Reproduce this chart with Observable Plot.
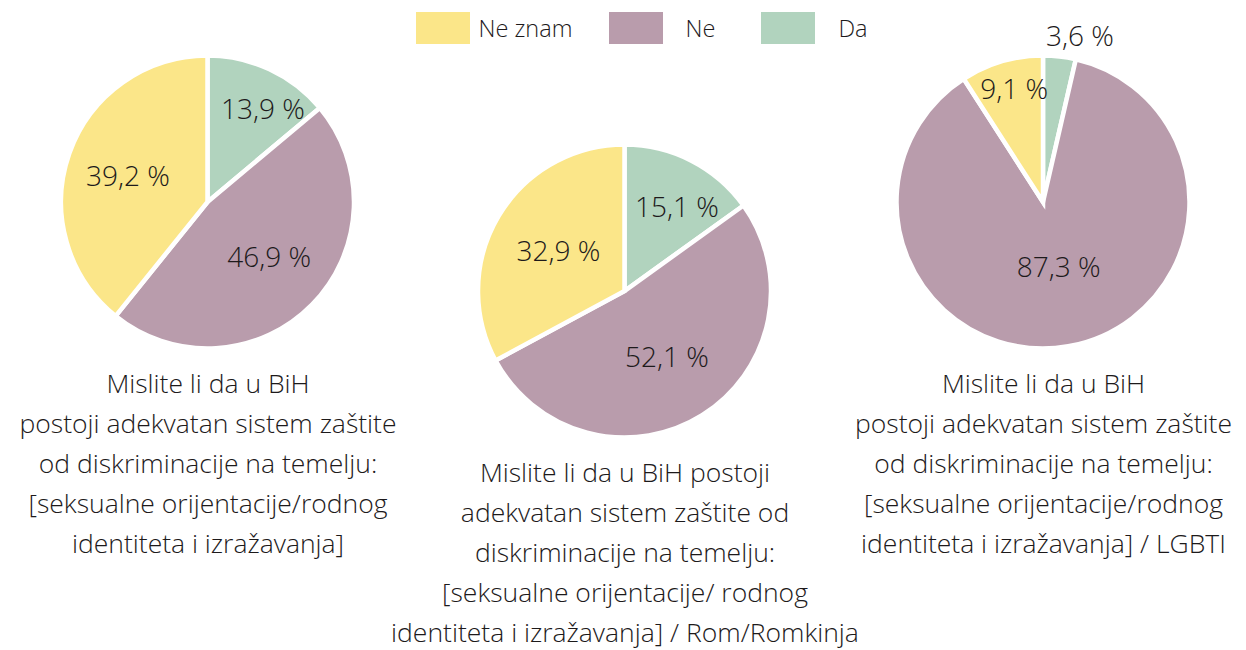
<!DOCTYPE html>
<html><head><meta charset="utf-8">
<script src="https://cdn.jsdelivr.net/npm/d3@7"></script>
<script src="https://cdn.jsdelivr.net/npm/@observablehq/plot@0.6"></script>
<style>body{margin:0;background:#fff} svg{display:block}</style>
</head><body><div id="chart"></div>
<script>
// ---- data ----
const categories = ["Da", "Ne", "Ne znam"];
const legendOrder = ["Ne znam", "Ne", "Da"];
const palette = ["#b1d3be", "#b99cac", "#fbe689"];
const values1 = [13.9, 46.9, 39.2];
const values2 = [15.1, 52.1, 32.9];
const values3 = [3.6, 87.3, 9.1];
const caption1 = ["Mislite li da u BiH", "postoji adekvatan sistem zaštite", "od diskriminacije na temelju:", "[seksualne orijentacije/rodnog", "identiteta i izražavanja]"];
const caption2 = ["Mislite li da u BiH postoji", "adekvatan sistem zaštite od", "diskriminacije na temelju:", "[seksualne orijentacije/ rodnog", "identiteta i izražavanja] / Rom/Romkinja"];
const caption3 = ["Mislite li da u BiH", "postoji adekvatan sistem zaštite", "od diskriminacije na temelju:", "[seksualne orijentacije/rodnog", "identiteta i izražavanja] / LGBTI"];

// ---- layout ----
const W = 1246, H = 650;
const FONT = "'Open Sans', Lato, sans-serif";
const WEIGHT = 300;
const INK = "#1d1a1b";
const R = 146.5;
const centers = [[207.5, 202], [624.5, 291], [1043, 202]];
const labelRadius = [[0.745, 0.57, 0.58], [0.68, 0.545, 0.535], [1.17, 0.465, 0.8]];
const labelTurn = [[5.6, -2.2, -1.5], [4.7, 0, 0], [5.9, -3.2, 1.7]];
const captionBaseline = [393, 482, 393];
const captionFont = 26.5, lineHeight = 40, labelFont = 28, legendFont = 23.5;
const legendBoxX = [416, 609, 761], legendTextX = [478, 685, 838];
const legendBox = {w: 54, y1: 12, y2: 44}, legendBaseline = 37;

// ---- derived ----
const series = [values1, values2, values3];
const captions = [caption1, caption2, caption3];
const pie = d3.pie().sort(null).value(d => d.value);
const slices = [];
series.forEach((vals, i) => {
  const rows = categories.map((c, j) => ({category: c, value: vals[j], pie: i, idx: j}));
  pie(rows).forEach(a => {
    const d = a.data;
    const mid = (a.startAngle + a.endAngle) / 2 + labelTurn[i][d.idx] * Math.PI / 180;
    const lr = labelRadius[i][d.idx] * 145;
    slices.push({
      ...d, startAngle: a.startAngle, endAngle: a.endAngle,
      cx: centers[i][0], cy: centers[i][1],
      lx: centers[i][0] + lr * Math.sin(mid),
      ly: centers[i][1] - lr * Math.cos(mid),
      label: d.value.toFixed(1).replace(".", ",") + " %"
    });
  });
});
const captionRows = captions.flatMap((lines, i) => lines.map((t, k) => ({
  text: t, x: centers[i][0], y: captionBaseline[i] + k * lineHeight - 0.35 * captionFont
})));
const legendRows = legendOrder.map((c, i) => ({category: c, x1: legendBoxX[i], x2: legendBoxX[i] + legendBox.w, tx: legendTextX[i]}));

const arc = d3.arc().innerRadius(0).outerRadius(R);
function pieMark(index, scales) {
  const g = d3.create("svg:g");
  for (const s of slices) {
    g.append("path")
      .attr("transform", `translate(${scales.x(s.cx)},${scales.y(s.cy)})`)
      .attr("d", arc({startAngle: s.startAngle, endAngle: s.endAngle}))
      .attr("fill", scales.color(s.category))
      .attr("stroke", "white")
      .attr("stroke-width", 4.5);
  }
  return g.node();
}

const chart = Plot.plot({
  width: W, height: H, margin: 0,
  x: {type: "identity"}, y: {type: "identity"},
  color: {domain: categories, range: palette},
  style: {fontFamily: FONT, background: "white"},
  marks: [
    Plot.rect(legendRows, {x1: "x1", x2: "x2", y1: () => legendBox.y1, y2: () => legendBox.y2, fill: "category"}),
    Plot.text(legendRows, {x: "tx", y: () => legendBaseline - 0.35 * legendFont, text: "category", textAnchor: "start", fontSize: legendFont, fontWeight: WEIGHT, fill: INK}),
    pieMark,
    Plot.text(slices, {x: "lx", y: "ly", text: "label", fontSize: labelFont, fontWeight: WEIGHT, fill: INK}),
    Plot.text(captionRows, {x: "x", y: "y", text: "text", fontSize: captionFont, fontWeight: WEIGHT, fill: INK})
  ]
});
document.getElementById("chart").append(chart);
</script>
</body></html>
